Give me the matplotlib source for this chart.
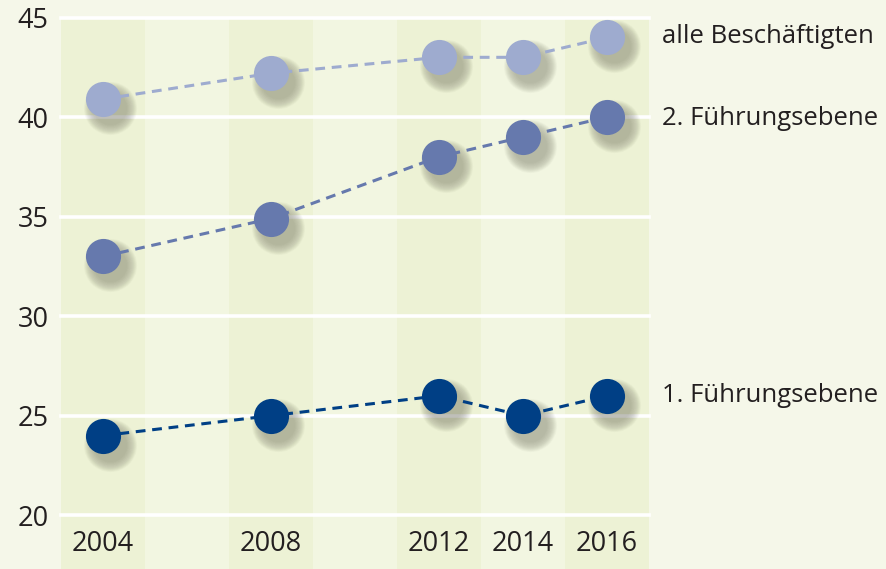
import matplotlib
matplotlib.use("Agg")
import matplotlib.pyplot as plt
import matplotlib.transforms as mtransforms

plt.rcParams['font.family'] = ['Open Sans', 'DejaVu Sans']

years = [2004, 2008, 2012, 2014, 2016]
alle = [40.9, 42.2, 43.0, 43.0, 44.0]
fuehrung2 = [33.0, 34.9, 38.0, 39.0, 40.0]
fuehrung1 = [24.0, 25.0, 26.0, 25.0, 26.0]
series_labels = ["alle Beschäftigten", "2. Führungsebene", "1. Führungsebene"]
series_colors = ["#9eabcf", "#6679ad", "#003f85"]
yticks = [20, 25, 30, 35, 40, 45]

DPI = 100
fig = plt.figure(figsize=(8.86, 5.69), dpi=DPI)
fig.patch.set_facecolor("#f5f7e9")
ax = fig.add_axes([61/886, 0, (649-61)/886, 1 - 17.5/569])
ax.set_xlim(2003, 2017)
ax.set_ylim(17.3, 45)
ax.set_facecolor("#f2f6e1")
for s in ax.spines.values():
    s.set_visible(False)

# alternating bands
for i, x0 in enumerate(range(2003, 2017, 2)):
    col = "#edf2d5" if i % 2 == 0 else "#f2f6e1"
    ax.axvspan(x0, x0 + 2, color=col, lw=0, zorder=0)

for yv in yticks:
    ax.axhline(yv, color="white", lw=2.6, zorder=1, clip_on=False)

ax.set_yticks(yticks)
ax.set_yticklabels([str(v) for v in yticks], fontsize=19.5, color="#231f20")
ax.tick_params(axis='y', length=0, pad=9)
ax.set_xticks([])
for yr in years:
    ax.text(yr, 18.55, str(yr), ha='center', va='center', fontsize=19.5, color="#231f20", zorder=5)

data = [alle, fuehrung2, fuehrung1]
msize = 640
for vals, col in zip(data, series_colors):
    ax.plot(years, vals, color=col, lw=2.2, ls=(0, (3.2, 2.2)), zorder=3)
    # soft shadow
    off = mtransforms.offset_copy(ax.transData, fig=fig, x=7, y=-9, units='dots')
    for k in range(24):
        ax.scatter(years, vals, s=msize * (2.3 - k * 0.062), color="#505040", alpha=0.016,
                   lw=0, transform=off, zorder=2)
    ax.scatter(years, vals, s=msize, color=col, lw=0, zorder=4)

label_y = [44.05, 39.95, 26.0]
for lab, yv in zip(series_labels, label_y):
    ax.text(2017.3, yv, lab, ha='left', va='center', fontsize=18.5, color="#231f20",
            clip_on=False)

fig.savefig("out.png", dpi=DPI, facecolor=fig.get_facecolor())
